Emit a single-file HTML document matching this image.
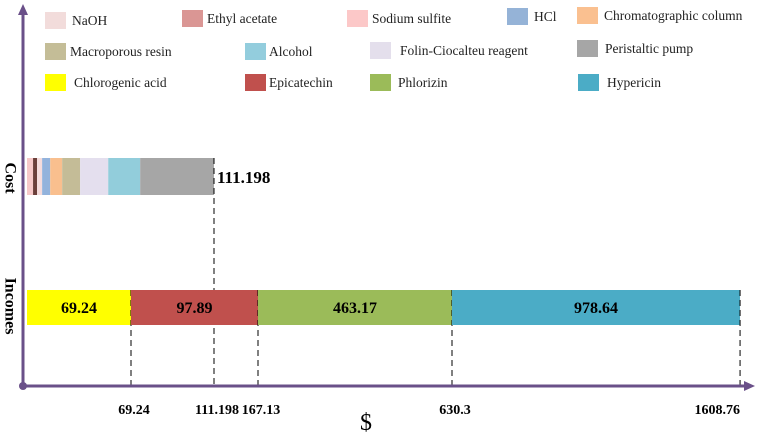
<!DOCTYPE html>
<html><head><meta charset="utf-8"><style>
body{margin:0;background:#fff}
svg{display:block;font-family:"Liberation Serif",serif}
</style></head><body>
<svg width="758" height="439" viewBox="0 0 758 439">
<g id="legend"></g>
<g id="marks"></g>
<g>
<line x1="23" y1="386" x2="23" y2="12" stroke="#6a5089" stroke-width="3"/>
<polygon points="23,4 18,15 28,15" fill="#6a5089"/>
<line x1="23" y1="386" x2="746" y2="386" stroke="#6a5089" stroke-width="3"/>
<polygon points="755,386 744,381 744,391" fill="#6a5089"/>
<circle cx="23" cy="386" r="4" fill="#6a5089"/>
<text x="10" y="178" transform="rotate(90 10 178)" text-anchor="middle" dominant-baseline="central" font-weight="bold" font-size="16">Cost</text>
<text x="10" y="306" transform="rotate(90 10 306)" text-anchor="middle" dominant-baseline="central" font-weight="bold" font-size="16">Incomes</text>
<text x="366" y="430" text-anchor="middle" font-size="24">$</text>
</g>
<g id="ticks"></g>
</svg>
<script>
const costNames=["NaOH-a","Ethyl acetate","Sodium sulfite","HCl","Chromatographic column","Macroporous resin","Folin-Ciocalteu reagent","Alcohol","Peristaltic pump"];
const costColors=["#f7c9c9","#6b3f3a","#f5dcdc","#93b3dc","#f9bf8e","#c4bc97","#e4dfee","#92cddb","#a6a6a6"];
const costValues=[3.6,2.4,3.0,4.8,7.1,10.7,16.7,19.0,43.898];
const costTotal=111.198;
const incomeNames=["Chlorogenic acid","Epicatechin","Phlorizin","Hypericin"];
const incomeColors=["#ffff00","#c0504d","#9bbb59","#4bacc6"];
const incomeValues=[69.24,97.89,463.17,978.64];
const tickLabels=["69.24","111.198","167.13","630.3","1608.76"];
const tickValues=[69.24,111.198,167.13,630.3,1608.76];
// piecewise (non-proportional) axis as drawn in the source figure
const axDomain=[0,69.24,111.198,167.13,630.3,1608.76];
const axRange=[27,131,214,258,452,740];
function x(v){for(let i=1;i<axDomain.length;i++){if(v<=axDomain[i]||i==axDomain.length-1){const t=(v-axDomain[i-1])/(axDomain[i]-axDomain[i-1]);return axRange[i-1]+t*(axRange[i]-axRange[i-1]);}}}
// linear scale for the cost breakdown bar
function xc(v){return x(0)+(x(costTotal)-x(0))*v/costTotal;}
const NS="http://www.w3.org/2000/svg";
function mk(tag,attrs,parent){const e=document.createElementNS(NS,tag);for(const k in attrs)e.setAttribute(k,attrs[k]);parent.appendChild(e);return e;}
const marks=document.getElementById('marks');
let acc=0;
costValues.forEach((v,i)=>{const x0=xc(acc),x1=xc(acc+v);
const r=mk('rect',{x:x0,y:158,width:Math.max(0,x1-x0),height:37,fill:costColors[i]},marks);


acc+=v;});
const cl=mk('line',{x1:x(costTotal),y1:158,x2:x(costTotal),y2:386,stroke:'#000','stroke-dasharray':'6,4'},marks);


const ct=mk('text',{x:x(costTotal)+3,y:183,'font-weight':'bold','font-size':17},marks);ct.textContent=String(costTotal);


acc=0;
incomeValues.forEach((v,i)=>{const x0=x(acc),x1=x(acc+v);
const r=mk('rect',{x:x0,y:290,width:x1-x0,height:35,fill:incomeColors[i]},marks);


const t=mk('text',{x:(x0+x1)/2,y:313,'text-anchor':'middle','font-weight':'bold','font-size':16},marks);t.textContent=String(v);


acc+=v;
const l=mk('line',{x1:x1,y1:290,x2:x1,y2:386,stroke:'#000','stroke-dasharray':'6,4'},marks);

});
const ticks=document.getElementById('ticks');
tickValues.forEach((v,i)=>{const last=i==tickValues.length-1;
const t=mk('text',{x:last?x(v):x(v)+3,y:414,'text-anchor':last?'end':'middle','font-weight':'bold','font-size':14},ticks);t.textContent=tickLabels[i];

});
const legendItems=[["NaOH","#f2dcdb",45,12,72],["Ethyl acetate","#da9694",182,10,207],["Sodium sulfite","#fcc8c8",347,10,372],["HCl","#95b3d7",507,8,534],["Chromatographic column","#fac090",577,7,604],
["Macroporous resin","#c4bd97",45,43,70],["Alcohol","#93cddd",245,43,269],["Folin-Ciocalteu reagent","#e4dfec",370,42,400],["Peristaltic pump","#a6a6a6",577,40,605],
["Chlorogenic acid","#ffff00",45,74,74],["Epicatechin","#c0504d",245,74,269],["Phlorizin","#9bbb59",370,74,398],["Hypericin","#4bacc6",578,74,607]];
const lg=document.getElementById('legend');
legendItems.forEach(it=>{const r=mk('rect',{x:it[2],y:it[3],width:21,height:17,fill:it[1]},lg);


const t=mk('text',{x:it[4],y:it[3]+13,'font-size':13.5,fill:'#222'},lg);t.textContent=it[0];

});
</script>
</body></html>
